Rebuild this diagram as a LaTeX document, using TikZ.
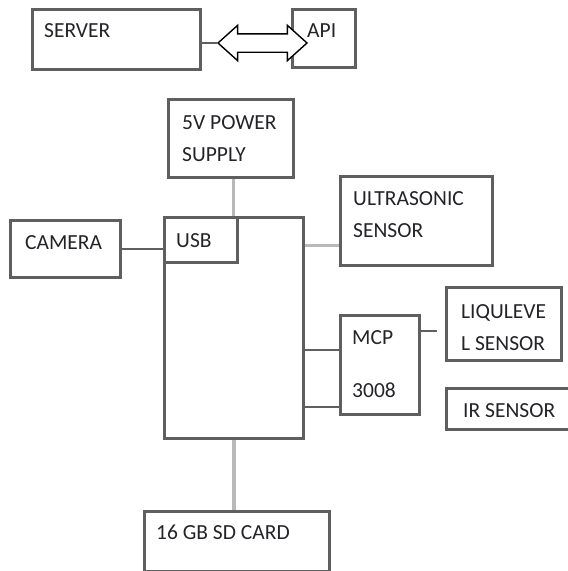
\documentclass[tikz,border=0pt]{standalone}
\usepackage{fontspec}
\setmainfont{Carlito}
\usetikzlibrary{shapes.arrows,calc}
\definecolor{boxgray}{RGB}{95,95,95}
\definecolor{lightline}{RGB}{185,185,185}
\definecolor{txt}{RGB}{35,35,40}
\tikzset{
  box/.style={draw=boxgray, line width=2.5pt, rectangle, inner sep=0pt, anchor=north west},
  lbl/.style={anchor=base west, inner sep=0pt, text=txt, font=\fontsize{21.5}{24}\selectfont},
  darkconn/.style={draw=boxgray, line width=2.2pt},
  lightconn/.style={draw=lightline, line width=3.5pt},
}
\begin{document}
\begin{tikzpicture}[x=1pt,y=-1pt]
\useasboundingbox (0,0) rectangle (568,571);
\clip (0,0) rectangle (568,571);
% boxes
\node[box, minimum width=168pt, minimum height=60pt] (server) at (31,8) {};
\node[box, minimum width=63pt, minimum height=58pt] (api) at (291,8) {};
\node[box, minimum width=125pt, minimum height=78pt] (power) at (167,98) {};
\node[box, minimum width=139pt, minimum height=221pt] (main) at (163,216) {};
\node[box, minimum width=73pt, minimum height=45pt] (usb) at (163,216) {};
\node[box, minimum width=110pt, minimum height=57pt] (camera) at (9,219) {};
\node[box, minimum width=152pt, minimum height=89pt] (ultra) at (339,175) {};
\node[box, minimum width=79pt, minimum height=99pt] (mcp) at (339,314) {};
\node[box, minimum width=115pt, minimum height=73pt] (liquid) at (445,286) {};
\node[box, minimum width=140pt, minimum height=41pt] (ir) at (445,387) {};
\node[box, minimum width=185pt, minimum height=60pt] (sd) at (143,510) {};
% double arrow between server and API
\node[double arrow, draw=black, fill=white, line width=1.4pt, minimum height=89pt,
      inner xsep=0pt, inner ysep=8.5pt, double arrow head extend=8.5pt,
      double arrow tip angle=84] (arr) at (262.5,43) {};
\draw[darkconn] (server.east |- arr.west) -- (arr.west);
% labels
\node[lbl] (tserver) at (44,37) {SERVER};
\node[lbl] (tapi) at (307,37) {API};
\node[lbl] (tpow1) at (182,129) {5V POWER};
\node[lbl] (tpow2) at (182,161) {SUPPLY};
\node[lbl] (tcam) at (25,249) {CAMERA};
\node[lbl] (tusb) at (176,247) {USB};
\node[lbl] (tult1) at (353,205) {ULTRASONIC};
\node[lbl] (tult2) at (353,237) {SENSOR};
\node[lbl] (tmcp1) at (352,344) {MCP};
\node[lbl] (tmcp2) at (352,397) {3008};
\node[lbl] (tliq1) at (461,318) {LIQULEVE};
\node[lbl] (tliq2) at (461,350) {L SENSOR};
\node[lbl] (tir) at (463,417) {IR SENSOR};
\node[lbl] (tsd) at (156,539) {16 GB SD CARD};
% connectors
\draw[lightconn, line width=3pt] (main.north) -- (main.north |- power.south);
\draw[lightconn, line width=4pt] (main.south) -- (main.south |- sd.north);
\draw[darkconn] (camera.east) -- (camera.east -| usb.west);
\coordinate (u1) at ($(ultra.west)+(0,24.5)$);
\draw[lightconn, line width=3pt] (u1) -- (u1 -| main.east);
\coordinate (m1) at ($(mcp.west)+(0,-14.5)$);
\coordinate (m2) at ($(mcp.west)+(0,42.5)$);
\draw[darkconn] (m1) -- (m1 -| main.east);
\draw[darkconn] (m2) -- (m2 -| main.east);
\coordinate (m3) at ($(mcp.east)+(0,-33.5)$);
\coordinate (m4) at ($(m3 -| liquid.west)+(-8,0)$);
\draw[darkconn] (m3) -- (m4);
\end{tikzpicture}
\end{document}
